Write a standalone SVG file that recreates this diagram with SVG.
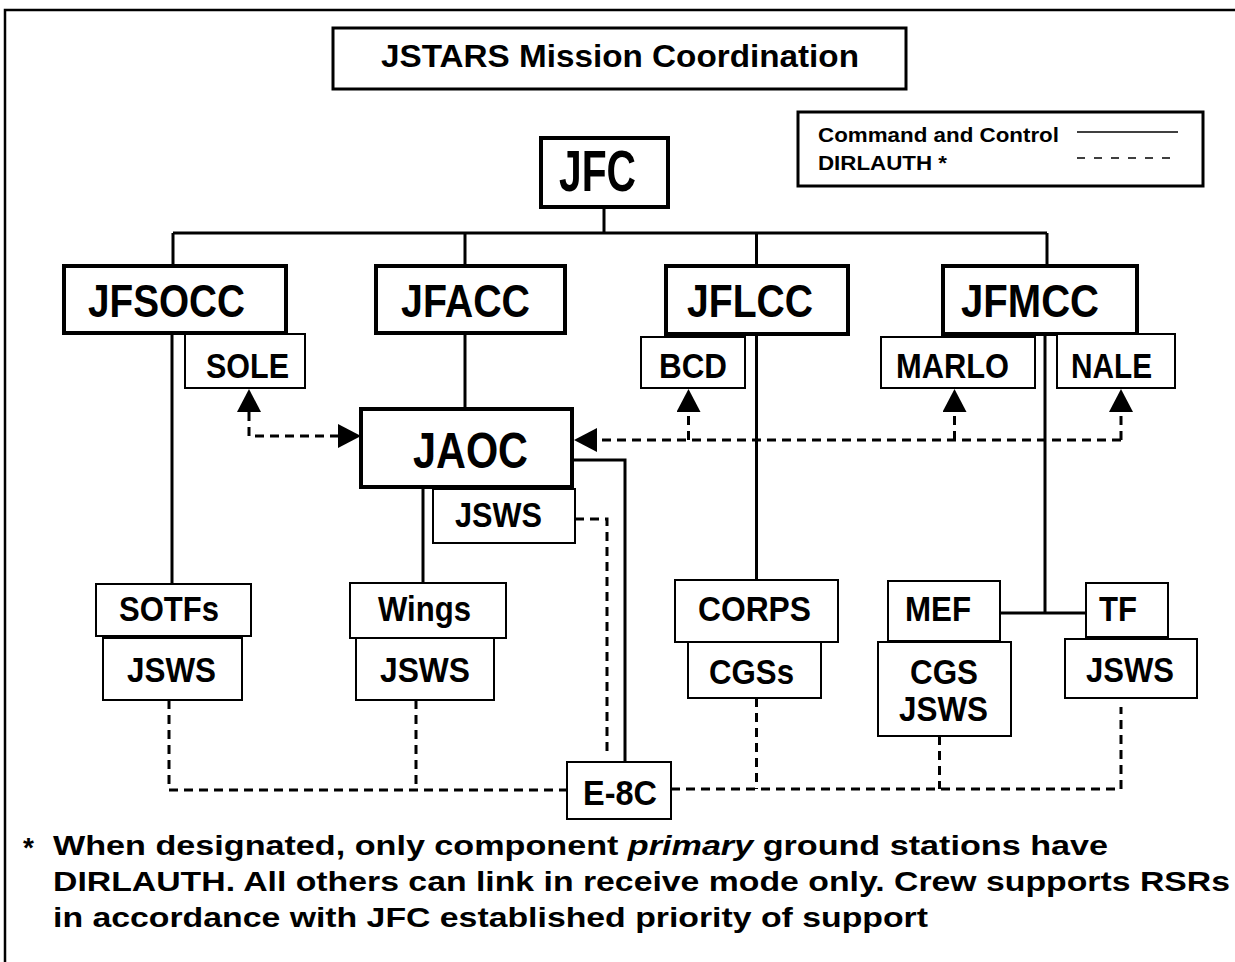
<svg xmlns="http://www.w3.org/2000/svg" width="1235" height="962" viewBox="0 0 1235 962">
<style>
text{font-family:"Liberation Sans",Arial,Helvetica,sans-serif;font-weight:bold;fill:#000}
.thick{fill:#fff;stroke:#000;stroke-width:4}
.thin{fill:#fff;stroke:#000;stroke-width:2}
.big{font-size:47px}
.jfc{font-size:58px}
.mid{font-size:50px}
.sm{font-size:35px}
.fn{font-size:28px}
.c2{fill:none;stroke:#000;stroke-width:3}
.d2{fill:none;stroke:#000;stroke-width:3;stroke-dasharray:9 6}
</style>
<defs>
<marker id="ah" viewBox="0 0 23 24" refX="0" refY="12" markerWidth="23" markerHeight="24" markerUnits="userSpaceOnUse" orient="auto-start-reverse">
<path d="M0,0 L23,12 L0,24 Z" fill="#000" stroke="none"/>
</marker>
</defs>
<rect x="5" y="10" width="1240" height="970" fill="none" stroke="#000" stroke-width="2.5"/>

<g id="connectors">
<path class="c2" d="M604 208 V233 M173 233 H1047 M173 233 V266 M465 233 V266 M756.5 233 V266 M1047 233 V266"/>
<path class="c2" d="M172 333 V584"/>
<path class="c2" d="M465 333 V409"/>
<path class="c2" d="M423 487 V583"/>
<path class="c2" d="M572 460 H625 V762"/>
<path class="c2" d="M756.5 334 V580"/>
<path class="c2" d="M1045 334 V613 M1000 613 H1086"/>
<path class="d2" d="M249 412 V436 H338" marker-start="url(#ah)" marker-end="url(#ah)"/>
<path class="d2" d="M1121 440 H597" marker-end="url(#ah)"/>
<path class="d2" d="M688.5 440 V412" marker-end="url(#ah)"/>
<path class="d2" d="M954.5 440 V412" marker-end="url(#ah)"/>
<path class="d2" d="M1121 440 V412" marker-end="url(#ah)"/>
<path class="d2" d="M575 519 H607 V753"/>
<path class="d2" d="M169 700 V790 H567"/>
<path class="d2" d="M416 700 V790"/>
<path class="d2" d="M671 789 H1121 V707"/>
<path class="d2" d="M756.5 698 V789"/>
<path class="d2" d="M939.5 736 V789"/>
</g>

<g id="title">
<rect x="333" y="28" width="573" height="61" fill="#fff" stroke="#000" stroke-width="3"/>
<text x="381" y="67" font-size="32" textLength="478" lengthAdjust="spacingAndGlyphs">JSTARS Mission Coordination</text>
</g>

<g id="legend">
<rect x="798" y="112" width="405" height="74" fill="#fff" stroke="#000" stroke-width="3"/>
<text x="818" y="142" font-size="21" textLength="241" lengthAdjust="spacingAndGlyphs">Command and Control</text>
<text x="818" y="170" font-size="21" textLength="129" lengthAdjust="spacingAndGlyphs">DIRLAUTH *</text>
<path d="M1077 132 H1178" stroke="#000" stroke-width="1.5"/>
<path d="M1077 158 H1172" stroke="#000" stroke-width="1.5" stroke-dasharray="8 9"/>
</g>

<g id="JFC">
<rect class="thick" x="541" y="138" width="127" height="69"/>
<text class="jfc" x="559" y="191" textLength="77" lengthAdjust="spacingAndGlyphs">JFC</text>
</g>
<g id="JFSOCC">
<rect class="thick" x="64" y="266" width="222" height="67"/>
<text class="big" x="88" y="317" textLength="157" lengthAdjust="spacingAndGlyphs">JFSOCC</text>
</g>
<g id="JFACC">
<rect class="thick" x="376" y="266" width="189" height="67"/>
<text class="big" x="401" y="317" textLength="129" lengthAdjust="spacingAndGlyphs">JFACC</text>
</g>
<g id="JFLCC">
<rect class="thick" x="666" y="266" width="182" height="68"/>
<text class="big" x="687" y="317" textLength="126" lengthAdjust="spacingAndGlyphs">JFLCC</text>
</g>
<g id="JFMCC">
<rect class="thick" x="943" y="266" width="194" height="68"/>
<text class="big" x="961" y="317" textLength="138" lengthAdjust="spacingAndGlyphs">JFMCC</text>
</g>
<g id="SOLE">
<rect class="thin" x="185" y="334" width="120" height="54"/>
<text class="sm" x="206" y="378" textLength="83" lengthAdjust="spacingAndGlyphs">SOLE</text>
</g>
<g id="BCD">
<rect class="thin" x="641" y="337" width="104" height="51"/>
<text class="sm" x="659" y="378" textLength="68" lengthAdjust="spacingAndGlyphs">BCD</text>
</g>
<g id="MARLO">
<rect class="thin" x="881" y="337" width="154" height="51"/>
<text class="sm" x="896" y="378" textLength="113" lengthAdjust="spacingAndGlyphs">MARLO</text>
</g>
<g id="NALE">
<rect class="thin" x="1057" y="334" width="118" height="54"/>
<text class="sm" x="1071" y="378" textLength="81" lengthAdjust="spacingAndGlyphs">NALE</text>
</g>
<g id="JAOC">
<rect class="thick" x="361" y="409" width="211" height="78"/>
<text class="mid" x="413" y="468" textLength="115" lengthAdjust="spacingAndGlyphs">JAOC</text>
</g>
<g id="JAOC-JSWS">
<rect class="thin" x="433" y="489" width="142" height="54"/>
<text class="sm" x="455" y="527" textLength="87" lengthAdjust="spacingAndGlyphs">JSWS</text>
</g>
<g id="SOTFs">
<rect class="thin" x="96" y="584" width="155" height="52"/>
<text class="sm" x="119" y="621" textLength="100" lengthAdjust="spacingAndGlyphs">SOTFs</text>
</g>
<g id="SOTFs-JSWS">
<rect class="thin" x="103" y="638" width="139" height="62"/>
<text class="sm" x="127" y="682" textLength="89" lengthAdjust="spacingAndGlyphs">JSWS</text>
</g>
<g id="Wings">
<rect class="thin" x="350" y="583" width="156" height="55"/>
<text class="sm" x="378" y="621" textLength="93" lengthAdjust="spacingAndGlyphs">Wings</text>
</g>
<g id="Wings-JSWS">
<rect class="thin" x="356" y="638" width="138" height="62"/>
<text class="sm" x="380" y="682" textLength="90" lengthAdjust="spacingAndGlyphs">JSWS</text>
</g>
<g id="CORPS">
<rect class="thin" x="675" y="580" width="163" height="62"/>
<text class="sm" x="698" y="621" textLength="113" lengthAdjust="spacingAndGlyphs">CORPS</text>
</g>
<g id="CGSs">
<rect class="thin" x="688" y="642" width="133" height="56"/>
<text class="sm" x="709" y="684" textLength="85" lengthAdjust="spacingAndGlyphs">CGSs</text>
</g>
<g id="MEF">
<rect class="thin" x="888" y="581" width="112" height="60"/>
<text class="sm" x="905" y="621" textLength="66" lengthAdjust="spacingAndGlyphs">MEF</text>
</g>
<g id="MEF-CGS-JSWS">
<rect class="thin" x="878" y="642" width="133" height="94"/>
<text class="sm" x="910" y="684" textLength="68" lengthAdjust="spacingAndGlyphs">CGS</text>
<text class="sm" x="899" y="721" textLength="89" lengthAdjust="spacingAndGlyphs">JSWS</text>
</g>
<g id="TF">
<rect class="thin" x="1086" y="583" width="82" height="54"/>
<text class="sm" x="1099" y="621" textLength="38" lengthAdjust="spacingAndGlyphs">TF</text>
</g>
<g id="TF-JSWS">
<rect class="thin" x="1065" y="639" width="132" height="59"/>
<text class="sm" x="1086" y="682" textLength="88" lengthAdjust="spacingAndGlyphs">JSWS</text>
</g>
<g id="E-8C">
<rect class="thin" x="567" y="762" width="104" height="57"/>
<text class="sm" x="583" y="805" textLength="74" lengthAdjust="spacingAndGlyphs">E-8C</text>
</g>

<g id="footnote">
<text class="fn" x="23" y="857">*</text>
<text class="fn" x="53" y="855" textLength="1055" lengthAdjust="spacingAndGlyphs">When designated, only component <tspan font-style="italic">primary</tspan> ground stations have</text>
<text class="fn" x="53" y="891" textLength="1177" lengthAdjust="spacingAndGlyphs">DIRLAUTH. All others can link in receive mode only. Crew supports RSRs</text>
<text class="fn" x="53" y="927" textLength="875" lengthAdjust="spacingAndGlyphs">in accordance with JFC established priority of support</text>
</g>
</svg>
